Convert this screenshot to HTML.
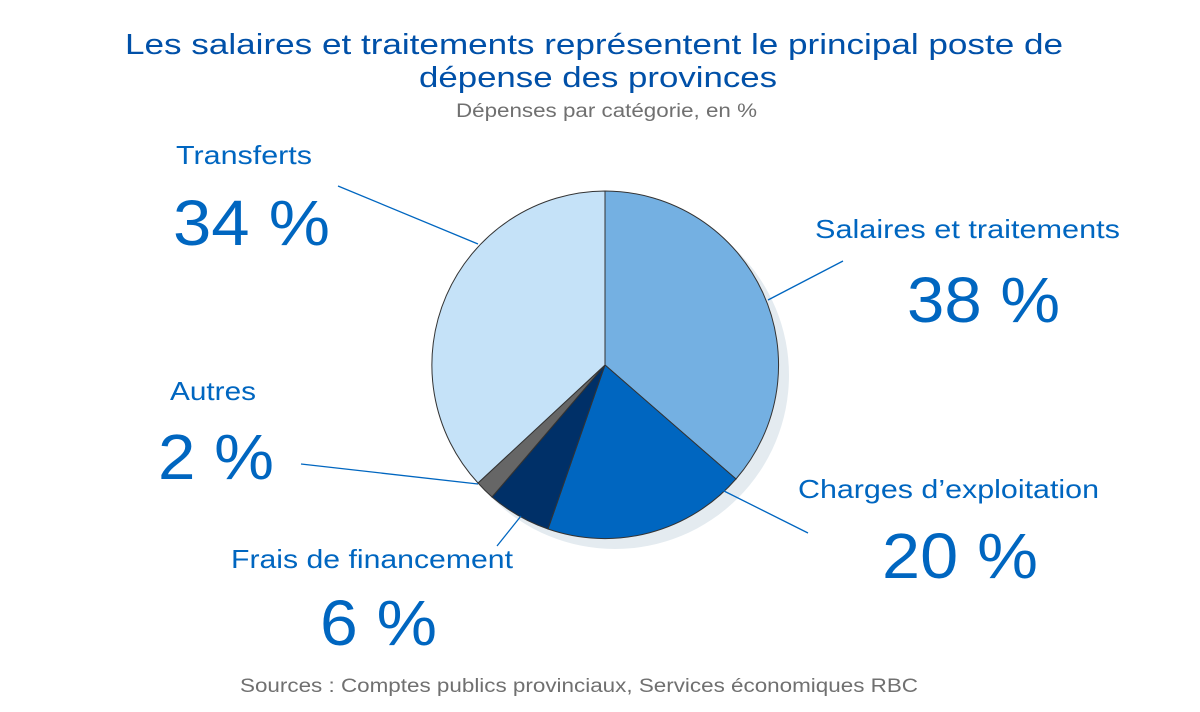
<!DOCTYPE html>
<html><head><meta charset="utf-8"><style>
body{margin:0;background:#fff;}
svg text{font-family:"Liberation Sans",sans-serif;}
</style></head><body>
<svg width="1200" height="707" viewBox="0 0 1200 707" xmlns="http://www.w3.org/2000/svg">
<text x="125" y="54" font-size="29" fill="#0050a8" textLength="938" lengthAdjust="spacingAndGlyphs">Les salaires et traitements représentent le principal poste de</text>
<text x="419" y="87" font-size="29" fill="#0050a8" textLength="358" lengthAdjust="spacingAndGlyphs">dépense des provinces</text>
<text x="456" y="117" font-size="19" fill="#707070" textLength="301" lengthAdjust="spacingAndGlyphs">Dépenses par catégorie, en %</text>
<circle cx="615" cy="375" r="174" fill="#e4ebf0"/>
<g stroke="#333" stroke-width="1">
<path d="M605,365 L605,191 A174,174 0 0 1 736,479 Z" fill="#74b0e2"/>
<path d="M605,365 L736,479 A174,174 0 0 1 548,529 Z" fill="#0066c0"/>
<path d="M605,365 L548,529 A174,174 0 0 1 492,497 Z" fill="#003068"/>
<path d="M605,365 L492,497 A174,174 0 0 1 478,483 Z" fill="#666"/>
<path d="M605,365 L478,483 A174,174 0 0 1 605,191 Z" fill="#c5e2f8"/>
</g>
<g stroke="#0066c0" stroke-width="1.3">
<line x1="338" y1="186" x2="478" y2="244"/>
<line x1="843" y1="261" x2="768" y2="300"/>
<line x1="722" y1="490" x2="808" y2="533"/>
<line x1="301" y1="464" x2="478" y2="484"/>
<line x1="497" y1="546" x2="521" y2="516"/>
</g>
<g fill="#0066c0">
<text x="176" y="164" font-size="26" textLength="136" lengthAdjust="spacingAndGlyphs">Transferts</text>
<text x="173" y="245" font-size="64" textLength="157" lengthAdjust="spacingAndGlyphs">34 %</text>
<text x="815" y="238" font-size="26" textLength="305" lengthAdjust="spacingAndGlyphs">Salaires et traitements</text>
<text x="907" y="322" font-size="64" textLength="153" lengthAdjust="spacingAndGlyphs">38 %</text>
<text x="170" y="400" font-size="26" textLength="86" lengthAdjust="spacingAndGlyphs">Autres</text>
<text x="158" y="479" font-size="64" textLength="116" lengthAdjust="spacingAndGlyphs">2 %</text>
<text x="798" y="498" font-size="26" textLength="301" lengthAdjust="spacingAndGlyphs">Charges d’exploitation</text>
<text x="882" y="578" font-size="64" textLength="156" lengthAdjust="spacingAndGlyphs">20 %</text>
<text x="231" y="568" font-size="26" textLength="282" lengthAdjust="spacingAndGlyphs">Frais de financement</text>
<text x="320" y="645" font-size="64" textLength="117" lengthAdjust="spacingAndGlyphs">6 %</text>
</g>
<text x="240" y="692" font-size="19" fill="#707070" textLength="678" lengthAdjust="spacingAndGlyphs">Sources : Comptes publics provinciaux, Services économiques RBC</text>
</svg>
</body></html>
